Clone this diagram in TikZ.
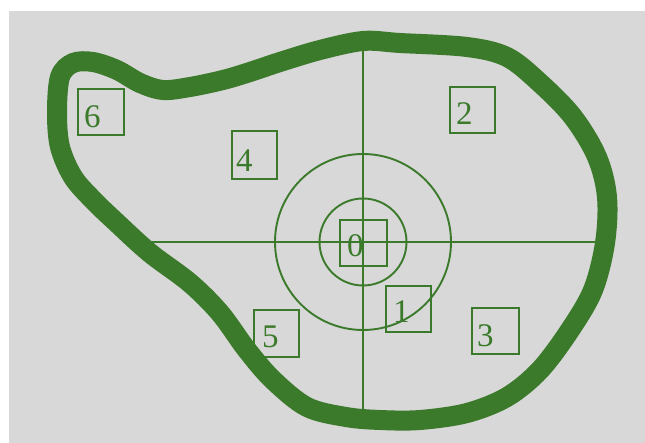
\documentclass[tikz,border=0pt]{standalone}
\usepackage{fontspec}
\setmainfont{Liberation Serif}
\definecolor{grn}{RGB}{58,122,42}
\definecolor{bg}{RGB}{216,216,216}
\tikzset{
  box/.style={draw=grn, line width=1.8pt, rectangle, inner sep=0pt},
  num/.style={text=grn, font=\fontsize{33}{33}\selectfont, inner sep=0pt, anchor=base west},
  thin/.style={draw=grn, line width=1.9pt}
}
\begin{document}
\begin{tikzpicture}[x=1pt,y=-1pt]
\useasboundingbox (0,0) rectangle (645,443);
\fill[white] (0,0) rectangle (645,443);
\fill[bg] (9,11) rectangle (645,443);
% crosshair
\coordinate (hl) at (147,242);
\coordinate (hr) at (600,242);
\coordinate (vt) at (363,44);
\coordinate (vb) at (363,418);
\draw[thin] (hl) -- (hr);
\draw[thin] (vt) -- (vb);
% blob
\draw[grn, line width=20pt] plot[smooth cycle, tension=0.55] coordinates {
 (73,63) (93,62) (117,70) (140,83) (163,90) (190,87) (223,80) (250,72)
 (280,62) (320,50) (363,41) (400,43) (467,47) (507,57) (540,83) (573,117)
 (597,157) (607,197) (605,243) (593,290) (570,330) (540,370) (507,397)
 (467,413) (420,420) (380,420) (346,417) (307,407) (273,380) (247,350)
 (220,313) (190,283) (150,253) (117,223) (93,200) (73,177) (60,147)
 (57,113) (60,77)};
\node (c) at (363,242) {};
\draw[thin] (c.center) circle[radius=88];
\draw[thin] (c.center) circle[radius=43.5];
% boxes
\node[box, minimum width=47pt, minimum height=46pt] (b0) at (363.5,243) {};
\node[box, minimum width=45pt, minimum height=46pt] (b1) at (408.5,309) {};
\node[box, minimum width=45pt, minimum height=46pt] (b2) at (472.5,110) {};
\node[box, minimum width=47pt, minimum height=46pt] (b3) at (495.5,331) {};
\node[box, minimum width=45pt, minimum height=48pt] (b4) at (254.5,155) {};
\node[box, minimum width=45pt, minimum height=47pt] (b5) at (276.5,333.5) {};
\node[box, minimum width=46pt, minimum height=46pt] (b6) at (101,112) {};
% labels
\node[num] (l0) at (347,257) {0};
\node[num] (l1) at (393,323) {1};
\node[num] (l2) at (456,125) {2};
\node[num] (l3) at (477,347) {3};
\node[num] (l4) at (236,172) {4};
\node[num] (l5) at (262,348) {5};
\node[num] (l6) at (84,128) {6};
\end{tikzpicture}
\end{document}
